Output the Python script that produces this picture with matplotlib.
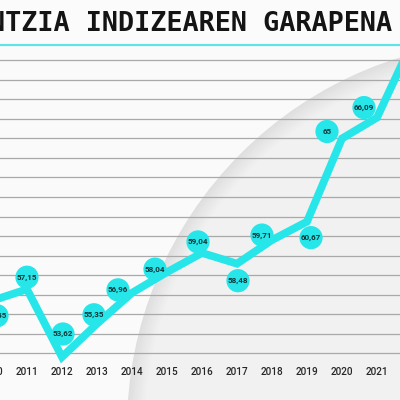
"""Index evolution line chart (cropped infographic style)."""

import matplotlib

matplotlib.use("Agg")
import matplotlib.pyplot as plt
import numpy as np
from matplotlib.patches import Circle, Rectangle

# --- data ---
years = [2010, 2011, 2012, 2013, 2014, 2015, 2016, 2017, 2018, 2019, 2020, 2021, 2022]
values = [56.55, 57.15, 53.62, 55.35, 56.96, 58.04, 59.04, 58.48, 59.71, 60.67, 65.00, 66.09, 70.00]
value_labels = ["56,55", "57,15", "53,62", "55,35", "56,96", "58,04", "59,04",
                "58,48", "59,71", "60,67", "65", "66,09", "70"]
title = "NTZIA INDIZEAREN GARAPENA"

# label bubble offsets from each vertex, in pixels (right, down)
label_offsets = [(5, 15), (0, -12), (1, -23), (-3, -9), (-14, -3), (-12, -3), (-4, -11),
                 (1, 17), (-10, -5), (4, 16), (-15, -7), (-13, -10), (40, 0)]

CYAN = "#27e6ea"
TEXT_DARK = "#0e3436"

fig = plt.figure(figsize=(4, 4), dpi=100)
fig.patch.set_facecolor("#fafafa")

# --- background swoosh (pixel coords) ---
bg = fig.add_axes([0, 0, 1, 1], zorder=0)
bg.set_xlim(0, 400)
bg.set_ylim(400, 0)
bg.axis("off")
center, radius = (515, 428), 388
shades = np.linspace(0.875, 0.945, 12)
for i, s in enumerate(shades):
    bg.add_patch(Circle(center, radius - i * 1.6, color=str(s), lw=0))
bg.add_patch(Rectangle((0, 0), 400, 44, color="#fbfbfb", lw=0))
bg.plot([0, 400], [44.5, 44.5], color="#5fe3e6", lw=1.6)

# --- chart ---
ax = fig.add_axes([0, 0, 1, 1], zorder=1)
ax.patch.set_alpha(0)
ax.set_xlim(2010.229, 2021.657)
ax.set_ylim(51.38, 72.214)
for s in ax.spines.values():
    s.set_visible(False)
ax.set_xticks([])
ax.set_yticks([])

grid_vals = 53.81 + 1.018 * np.arange(16)
for g in grid_vals:
    ax.axhline(g, color="#a9a9a9", lw=0.9, zorder=1)

ax.plot(years, values, color=CYAN, lw=5.6, solid_joinstyle="miter", zorder=3)

fig.canvas.draw()
to_px = ax.transData
for yr, v, lab, (dx, dy) in zip(years, values, value_labels, label_offsets):
    px = to_px.transform((yr, v)) + np.array([dx, -dy])
    lx, ly = to_px.inverted().transform(px)
    ax.scatter([lx], [ly], s=280, color=CYAN, edgecolors="none", zorder=4)
    ax.text(lx, ly, lab, ha="center", va="center", fontsize=5.8, fontfamily="Roboto",
            fontweight="bold", color=TEXT_DARK, zorder=5)

for yr in years:
    ax.text(yr, 0.07, str(yr), transform=ax.get_xaxis_transform(), ha="center", va="center",
            fontsize=7.2, fontfamily="Roboto", fontweight="medium", color="#262626")

fig.text(392 / 400, 1 - 24 / 400, title, ha="right", va="center",
         fontfamily="DejaVu Sans Mono", fontweight="bold", fontsize=19.4, color="#141414")

fig.savefig("out.png", dpi=100)
plt.close(fig)
